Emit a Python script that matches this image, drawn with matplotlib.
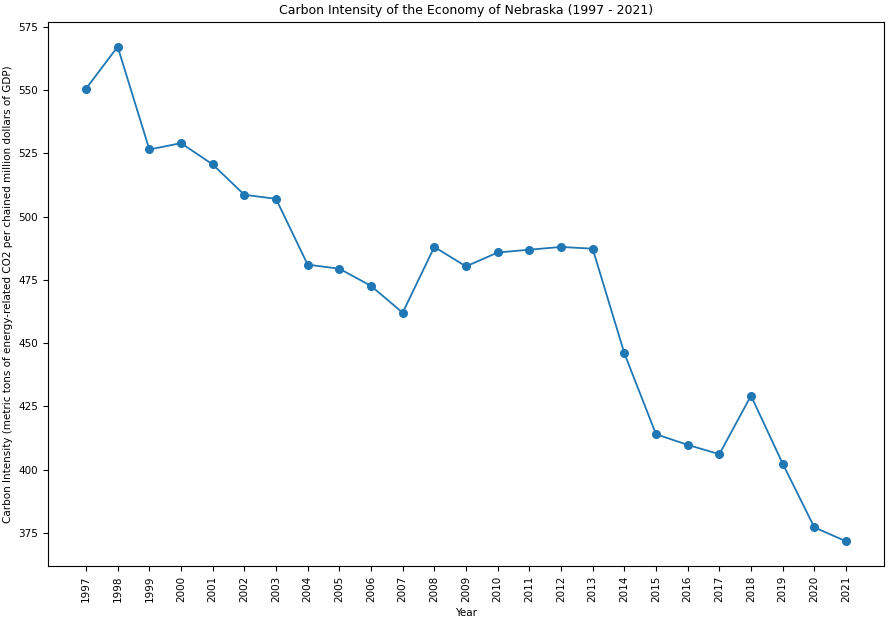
import matplotlib as mpl
mpl.use('Agg')
import matplotlib.pyplot as plt

years = list(range(1997, 2022))
intensity = [550.5, 567.1, 526.5, 529.0, 520.6, 508.6, 507.0, 481.0, 479.4, 472.6,
             462.0, 488.0, 480.3, 485.8, 486.9, 488.0, 487.3, 446.0, 414.0, 409.8,
             406.1, 429.2, 402.4, 377.2, 371.7]

fig = plt.figure(figsize=(8.91, 6.2), dpi=100)
ax = fig.add_axes([48 / 891, 54 / 620, 836 / 891, 544 / 620])
ax.plot(years, intensity, marker='o', color='#1f77b4', lw=1.3, ms=5.5)
ax.set_xticks(years)
ax.set_xticklabels([str(y) for y in years], rotation=90)
ax.tick_params(labelsize=7.5)
ax.set_title('Carbon Intensity of the Economy of Nebraska (1997 - 2021)', fontsize=9)
ax.set_xlabel('Year', fontsize=7.5)
ax.set_ylabel('Carbon Intensity (metric tons of energy-related CO2 per chained million dollars of GDP)', fontsize=7.5)

fig.savefig('out.png', dpi=100)
